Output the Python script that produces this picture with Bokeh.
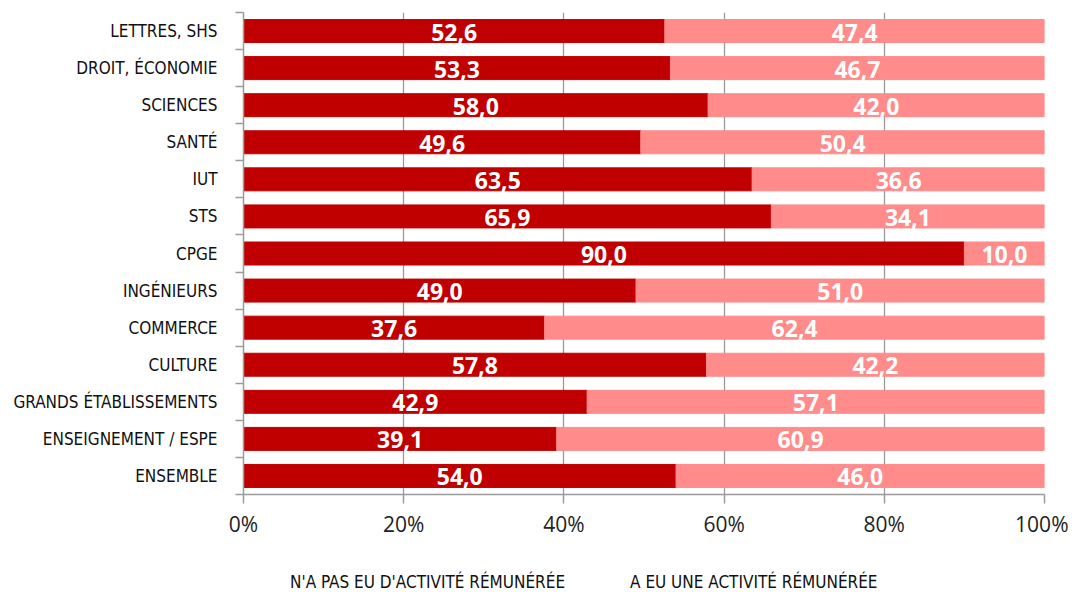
from bokeh.plotting import figure
from bokeh.layouts import column
from bokeh.models import ColumnDataSource, FixedTicker, Legend, LegendItem, LabelSet, CDSView, IndexFilter
from bokeh.core.properties import value
from bokeh.embed import file_html
from bokeh.resources import INLINE

categories = ["LETTRES, SHS", "DROIT, ÉCONOMIE", "SCIENCES", "SANTÉ", "IUT", "STS", "CPGE",
              "INGÉNIEURS", "COMMERCE", "CULTURE", "GRANDS ÉTABLISSEMENTS",
              "ENSEIGNEMENT / ESPE", "ENSEMBLE"]
no_activity = [52.6, 53.3, 58.0, 49.6, 63.5, 65.9, 90.0, 49.0, 37.6, 57.8, 42.9, 39.1, 54.0]
activity = [47.4, 46.7, 42.0, 50.4, 36.6, 34.1, 10.0, 51.0, 62.4, 42.2, 57.1, 60.9, 46.0]
x_ticks = [0, 20, 40, 60, 80, 100]
series_names = ["N'A PAS EU D'ACTIVITÉ RÉMUNÉRÉE", "A EU UNE ACTIVITÉ RÉMUNÉRÉE"]

DARK = "#C00000"
PINK = "#FF8B8B"
GREY = "#9A9A9A"
COND = "DejaVu Sans Condensed"

n = len(categories)
ys = [n - i - 0.5 for i in range(n)]
src = ColumnDataSource(dict(
    y=ys,
    a=no_activity,
    b_left=no_activity,
    b_right=[a + b for a, b in zip(no_activity, activity)],
    a_mid=[a / 2 for a in no_activity],
    b_mid=[a + b / 2 for a, b in zip(no_activity, activity)],
    a_lab=[f"{v:.1f}".replace(".", ",") for v in no_activity],
    b_lab=[f"{v:.1f}".replace(".", ",") for v in activity],
))

p = figure(frame_width=801, frame_height=482, output_backend="svg", toolbar_location=None,
           x_range=(0, 100), y_range=(0, n),
           min_border_left=243, min_border_right=24, min_border_top=12, min_border_bottom=0)
p.outline_line_color = None
p.background_fill_color = "white"

# grid
p.ygrid.grid_line_color = None
p.xgrid.grid_line_color = GREY
p.xgrid.grid_line_width = 1.3
p.xgrid.ticker = FixedTicker(ticks=x_ticks)

p.hbar(y="y", left=0, right="a", height=0.62, color=DARK, source=src)
p.hbar(y="y", left="b_left", right="b_right", height=0.62, color=PINK, source=src)

for xcol, tcol in (("a_mid", "a_lab"), ("b_mid", "b_lab")):
    p.add_layout(LabelSet(x=xcol, y="y", text=tcol, source=src, text_color="white",
                          text_font=value("Open Sans"), text_font_style="bold",
                          text_font_size="23px",
                          text_align="center", text_baseline="middle", y_offset=-1))

# x axis
xa = p.xaxis[0]
xa.ticker = FixedTicker(ticks=x_ticks)
xa.major_label_overrides = {t: f"{t}%" for t in x_ticks}
xa.axis_line_color = GREY
xa.axis_line_width = 1.5
xa.major_tick_line_color = GREY
xa.major_tick_line_width = 1.5
xa.major_tick_out = 9
xa.major_tick_in = 0
xa.minor_tick_line_color = None
xa.major_label_text_font = "Open Sans"
xa.major_label_text_font_size = "21px"
xa.major_label_text_color = "#222222"
xa.major_label_standoff = 6

# y axis
ya = p.yaxis[0]
ya.ticker = FixedTicker(ticks=ys, minor_ticks=list(range(n + 1)))
ya.major_label_overrides = {y: c for y, c in zip(ys, categories)}
ya.axis_line_color = GREY
ya.axis_line_width = 1.5
ya.major_tick_line_color = None
ya.minor_tick_line_color = GREY
ya.minor_tick_line_width = 1.5
ya.minor_tick_out = 8
ya.minor_tick_in = 0
ya.major_label_text_font = COND
ya.major_label_text_font_size = "17px"
ya.major_label_text_color = "#111111"
ya.major_label_standoff = 18

# legend strip (its frame is aligned with the main frame by the column layout);
# its bars are filtered out, so only the legend is seen
lg = figure(width=1068, height=54, output_backend="svg", toolbar_location=None,
            x_range=(0, 100), y_range=(-10, -9), min_border=0)
lg.axis.visible = False
lg.grid.visible = False
lg.outline_line_color = None
hidden = CDSView(filter=IndexFilter(indices=[]))
l1 = lg.hbar(y="y", left=0, right="a", height=0.62, color=DARK, source=src, view=hidden)
l2 = lg.hbar(y="y", left="b_left", right="b_right", height=0.62, color=PINK, source=src,
             view=CDSView(filter=IndexFilter(indices=[])))
legend = Legend(items=[LegendItem(label=series_names[0], renderers=[l1]),
                       LegendItem(label=series_names[1], renderers=[l2])],
                orientation="horizontal", location=(27, 2),
                label_text_font=COND, label_text_font_size="17px", label_text_color="#111111",
                glyph_width=15, glyph_height=15, label_standoff=5, spacing=45,
                border_line_color=None, background_fill_alpha=0, margin=0, padding=0)
lg.add_layout(legend, "center")

open("out.html", "w").write(file_html(column(p, lg, spacing=0), INLINE))
